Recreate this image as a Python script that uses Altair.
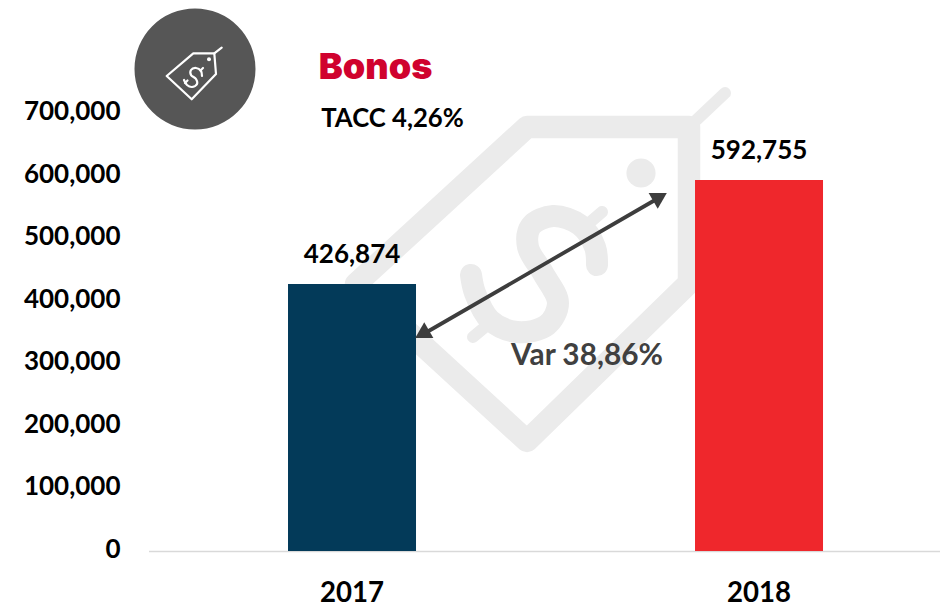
import altair as alt
import pandas as pd

years = ["2017", "2018"]
values = [426874, 592755]
colors = ["#033a59", "#ef272c"]

PL, PT = 148.5, 113.0   # plot origin on the page
W, H = 791.5, 438

def P(name, pts):
    return [{"part": name, "i": i, "px": x - PL, "py": y - PT} for i, (x, y) in enumerate(pts)]

wm_outline = P("outline", [(356, 284), (527, 127), (689, 127), (689, 283), (527, 441), (356, 284)])
wm_thin = (
    P("hanger", [(689, 127), (725, 93)])
    + P("bar1", [(602, 212), (588, 224)])
    + P("bar2", [(473, 337), (485, 327)])
)
wm_curve = P("s", [(597, 265), (595, 247), (580, 225), (553, 216), (531, 226), (528, 247),
                   (543, 273), (558, 303), (547, 325), (517, 332), (490, 320), (475, 293), (471, 275)])
icon_lines = (
    P("outline", [(166.7, 76), (193.3, 53.3), (214.3, 53.3), (216, 74), (191.7, 99.3), (166.7, 76)])
    + P("hanger", [(214.3, 53.3), (221.7, 47.7)])
    + P("bar1", [(203, 68), (200.5, 70.5)])
    + P("bar2", [(185, 83), (187.5, 80.5)])
)
icon_curve = P("s", [(202, 76), (201, 71), (196, 68), (191, 70), (191, 75), (196, 79),
                     (197, 84), (192, 87), (187, 85), (184, 80)])
arrow_line = P("arrow", [(420, 336), (662, 196)])
arrow_heads = [dict(px=p["px"], py=p["py"], a=a) for p, a in zip(P("h", [(422, 334), (660, 197)]), [240, 60])]
circles = [dict(P("c", [(195, 69)])[0], size=14641, col="#565656"),
           dict(P("c", [(209, 59.3)])[0], size=16, col="#ffffff")]
wm_dot = P("d", [(641, 173)])

FONT = "Lato"
px = alt.X("px:Q", scale=None, axis=None)
py = alt.Y("py:Q", scale=None, axis=None)

def lines(data, color, sw, interp="linear"):
    return alt.Chart(pd.DataFrame(data)).mark_line(
        color=color, strokeWidth=sw, strokeCap="round", strokeJoin="round", interpolate=interp, clip=False
    ).encode(x=px, y=py, detail="part:N", order="i:Q")

def label(text, x, y, size, color="#000000", font=FONT, weight="bold"):
    return alt.Chart(pd.DataFrame({"t": [text]})).mark_text(
        font=font, fontSize=size, fontWeight=weight, color=color, align="center", baseline="middle"
    ).encode(x=alt.value(x - PL), y=alt.value(y - PT), text="t:N")

df = pd.DataFrame({"year": years, "value": values, "color": colors})
xenc = alt.X("year:N", title=None,
             scale=alt.Scale(paddingInner=0.6855, paddingOuter=0.3151, align=0.5439),
             axis=alt.Axis(labelAngle=0, labelFont=FONT, labelFontSize=27.6, labelFontWeight="bold",
                           labelColor="#000000", ticks=False, domainColor="#d9d9d9", domainWidth=1.5,
                           labelPadding=28, grid=False))
yenc = alt.Y("value:Q", title=None, scale=alt.Scale(domain=[0, 700000]),
             axis=alt.Axis(values=list(range(0, 700001, 100000)), format=",.0f", labelFont=FONT,
                           labelFontSize=26, labelFontWeight="bold", labelColor="#000000",
                           ticks=False, domain=False, grid=False, labelPadding=28.5, labelOffset=-1.5))

bars = alt.Chart(df).mark_bar(size=128).encode(x=xenc, y=yenc, color=alt.Color("color:N", scale=None))
bar_labels = alt.Chart(df).mark_text(font=FONT, fontSize=26, fontWeight="bold", color="#000000",
                                     baseline="middle", dy=-29).encode(
    x="year:N", y="value:Q", text=alt.Text("value:Q", format=","))
marks = alt.layer(bars, bar_labels)

def pts(data, **kw):
    return alt.Chart(pd.DataFrame(data)).mark_point(filled=True, opacity=1, **kw)

dec1 = alt.layer(
    lines(wm_outline, "#ebebeb", 22.5),
    lines(wm_thin, "#ebebeb", 12),
    lines(wm_curve, "#ebebeb", 22, "catmull-rom"),
    pts(wm_dot, color="#ebebeb", size=850, shape="circle").encode(x=px, y=py),
)
dec2 = alt.layer(
    pts(circles, shape="circle").encode(x=px, y=py, size=alt.Size("size:Q", scale=None),
                                        color=alt.Color("col:N", scale=None)),
    lines(icon_lines, "#ffffff", 2.2),
    lines(icon_curve, "#ffffff", 2.2, "catmull-rom"),
    lines(arrow_line, "#3d3d3d", 3.8),
    pts(arrow_heads, shape="triangle-up", size=330, color="#3d3d3d").encode(
        x=px, y=py, angle=alt.Angle("a:Q", scale=None)),
)
texts = alt.layer(
    label("Bonos", 375.5, 68, 36, "#d0022e", "Inter", 900),
    label("TACC 4,26%", 392.5, 119, 25.7),
    label("Var 38,86%", 587, 356, 29.8, "#404040"),
)

chart = alt.layer(dec1, marks, dec2, texts).resolve_scale(x="independent", y="independent", color="independent", size="independent", angle="independent").properties(
    width=W, height=H,
    autosize=alt.AutoSizeParams(type="none"),
    padding={"left": PL - 8, "top": PT - 8, "right": 0, "bottom": 598 - (PT - 8) - H},
).configure_view(stroke=None)

chart.save("out.html", embed_options={"renderer": "svg", "actions": False})
